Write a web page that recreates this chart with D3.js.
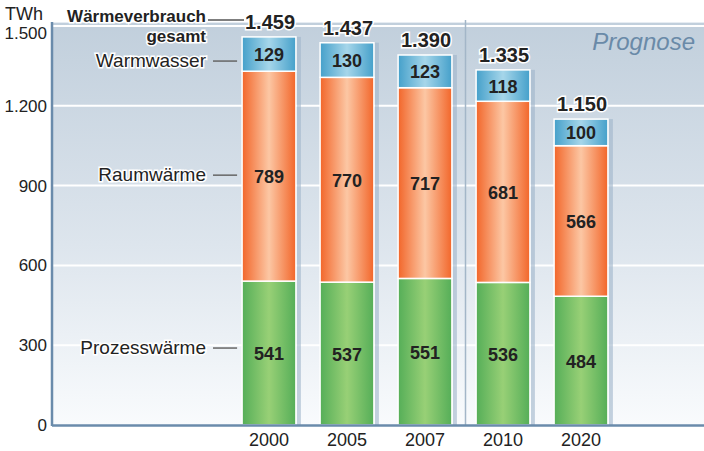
<!DOCTYPE html>
<html>
<head>
<meta charset="utf-8">
<script src="https://cdn.jsdelivr.net/npm/d3@7"></script>
<style>
  body { margin: 0; background: #fff; }
  svg { display: block; font-family: "Liberation Sans", Arial, sans-serif; }
</style>
</head>
<body>
<svg id="chart" width="704" height="451"></svg>
<script>
// data
const years = ["2000", "2005", "2007", "2010", "2020"];
const prozess = [541, 537, 551, 536, 484];
const raum = [789, 770, 717, 681, 566];
const wasser = [129, 130, 123, 118, 100];
const totals = [1459, 1437, 1390, 1335, 1150];
const yTicks = [0, 300, 600, 900, 1200, 1500];
const seriesNames = ["Prozesswärme", "Raumwärme", "Warmwasser"];

const de = d3.formatLocale({ decimal: ",", thousands: ".", grouping: [3], currency: ["", " €"] });
const fmt = de.format(",d");

const svg = d3.select("#chart");
const W = 704, H = 451;
const plotLeft = 52, plotTop = 22, plotBottom = 425;

const y = d3.scaleLinear().domain([0, 1500]).range([plotBottom, 26]);
const x = d3.scaleBand().domain(years).range([230, 620]).paddingInner(0.31).paddingOuter(0.155);

const defs = svg.append("defs");
const bg = defs.append("linearGradient").attr("id", "bg").attr("x1", 0).attr("x2", 0).attr("y1", 0).attr("y2", 1);
bg.append("stop").attr("offset", "0%").attr("stop-color", "#c1cfdc");
bg.append("stop").attr("offset", "55%").attr("stop-color", "#dde5ed");
bg.append("stop").attr("offset", "100%").attr("stop-color", "#f9fbfd");

function barGrad(id, edge, mid) {
  const g = defs.append("linearGradient").attr("id", id).attr("x1", 0).attr("x2", 1).attr("y1", 0).attr("y2", 0);
  g.append("stop").attr("offset", "0%").attr("stop-color", edge);
  g.append("stop").attr("offset", "50%").attr("stop-color", mid);
  g.append("stop").attr("offset", "100%").attr("stop-color", edge);
}
barGrad("gGreen", "#55ae58", "#98d076");
barGrad("gOrange", "#f2662a", "#fcc7a4");
barGrad("gBlue", "#45a0ca", "#a6d6ea");

// plot background
svg.append("rect").attr("x", plotLeft).attr("y", plotTop).attr("width", W - plotLeft).attr("height", plotBottom - plotTop)
  .attr("fill", "url(#bg)");
svg.append("line").attr("x1", plotLeft).attr("x2", W).attr("y1", plotTop + 0.5).attr("y2", plotTop + 0.5)
  .attr("stroke", "#e6ecf2").attr("stroke-width", 1);

// gridlines
svg.append("g").selectAll("line").data(yTicks.filter(d => d > 0)).join("line")
  .attr("x1", plotLeft).attr("x2", W)
  .attr("y1", d => y(d)).attr("y2", d => y(d))
  .attr("stroke", "#fff").attr("stroke-width", 2);

// Prognose separator
svg.append("line").attr("x1", 465.5).attr("x2", 465.5).attr("y1", 20).attr("y2", plotBottom)
  .attr("stroke", "#a3b6c8").attr("stroke-width", 1.5);

svg.append("text").attr("x", 695).attr("y", 50).attr("text-anchor", "end")
  .attr("font-size", 24).attr("font-style", "italic").attr("fill", "#6a8aa8").text("Prognose");

// stacked bars
const rows = years.map((yr, i) => ({ year: yr, p: prozess[i], r: raum[i], w: wasser[i], total: totals[i] }));
const stack = d3.stack().keys(["p", "r", "w"])(rows);
const fills = ["url(#gGreen)", "url(#gOrange)", "url(#gBlue)"];

// shadows
svg.append("g").selectAll("rect").data(rows).join("rect")
  .attr("x", d => x(d.year) + x.bandwidth() + 1)
  .attr("y", d => y(d.p + d.r + d.w))
  .attr("width", 4)
  .attr("height", d => plotBottom - y(d.p + d.r + d.w))
  .attr("fill", "#9fb4c9").attr("opacity", 0.6);

const layers = svg.append("g").selectAll("g").data(stack).join("g").attr("fill", (d, i) => fills[i]);
layers.selectAll("rect").data(d => d).join("rect")
  .attr("x", d => x(d.data.year))
  .attr("y", d => y(d[1]))
  .attr("width", x.bandwidth())
  .attr("height", d => y(d[0]) - y(d[1]))
  .attr("stroke", "#fff").attr("stroke-width", 1.5);

// segment values
layers.selectAll("text").data(d => d).join("text")
  .attr("x", d => x(d.data.year) + x.bandwidth() / 2)
  .attr("y", d => (y(d[0]) + y(d[1])) / 2 + 7)
  .attr("text-anchor", "middle")
  .attr("font-size", 18).attr("font-weight", "bold").attr("fill", "#222")
  .text(d => fmt(d[1] - d[0]));

// totals
svg.append("g").selectAll("text").data(rows).join("text")
  .attr("x", d => x(d.year) + x.bandwidth() / 2 + 1)
  .attr("y", d => y(d.total) - 8)
  .attr("text-anchor", "middle")
  .attr("font-size", 20).attr("font-weight", "bold").attr("fill", "#222")
  .attr("stroke", "#fff").attr("stroke-width", 3).attr("paint-order", "stroke")
  .text(d => fmt(d.total));

// axes
const yAxis = svg.append("g").attr("transform", `translate(${plotLeft},0)`)
  .call(d3.axisLeft(y).tickValues(yTicks).tickSize(0).tickPadding(5).tickFormat(fmt));
yAxis.select(".domain").remove();
yAxis.selectAll("text").attr("font-size", 17).attr("fill", "#222").attr("font-family", null)
  .attr("dy", d => d === 1500 ? "0.75em" : "0.32em");

const xAxis = svg.append("g").attr("transform", `translate(0,${plotBottom})`)
  .call(d3.axisBottom(x).tickSize(0).tickPadding(8));
xAxis.select(".domain").remove();
xAxis.selectAll("text").attr("font-size", 18).attr("fill", "#222").attr("font-family", null);

svg.append("line").attr("x1", plotLeft).attr("x2", plotLeft).attr("y1", plotTop).attr("y2", plotBottom + 1)
  .attr("stroke", "#6a8bab").attr("stroke-width", 2.5);
svg.append("line").attr("x1", plotLeft).attr("x2", W).attr("y1", plotBottom + 0.5).attr("y2", plotBottom + 0.5)
  .attr("stroke", "#6a8bab").attr("stroke-width", 2.5);

svg.append("text").attr("x", 5).attr("y", 20).attr("font-size", 18).attr("fill", "#222").text("TWh");

// left annotations
const first = rows[0];
const x0 = x(first.year);
const notes = [
  { label: "Prozesswärme", yv: y(first.p / 2) - 5 },
  { label: "Raumwärme", yv: y(first.p + first.r / 2) - 1 },
  { label: "Warmwasser", yv: y(first.p + first.r + first.w / 2) + 7 }
];
const ann = svg.append("g");
notes.forEach(n => {
  ann.append("text").attr("x", 206).attr("y", n.yv + 6).attr("text-anchor", "end")
    .attr("font-size", 19).attr("fill", "#222")
    .attr("stroke", "#fff").attr("stroke-width", 3).attr("paint-order", "stroke")
    .text(n.label);
  ann.append("line").attr("x1", 213).attr("x2", x0 - 5).attr("y1", n.yv).attr("y2", n.yv)
    .attr("stroke", "#666").attr("stroke-width", 1.5);
});
ann.append("text").attr("x", 206).attr("y", 22).attr("text-anchor", "end")
  .attr("font-size", 17).attr("font-weight", "bold").attr("fill", "#222")
  .attr("stroke", "#fff").attr("stroke-width", 3).attr("paint-order", "stroke")
  .text("Wärmeverbrauch");
ann.append("text").attr("x", 206).attr("y", 42).attr("text-anchor", "end")
  .attr("font-size", 17).attr("font-weight", "bold").attr("fill", "#222")
  .attr("stroke", "#fff").attr("stroke-width", 3).attr("paint-order", "stroke")
  .text("gesamt");
ann.append("line").attr("x1", 208).attr("x2", 244).attr("y1", 20).attr("y2", 20)
  .attr("stroke", "#555").attr("stroke-width", 1.5);
</script>
</body>
</html>
